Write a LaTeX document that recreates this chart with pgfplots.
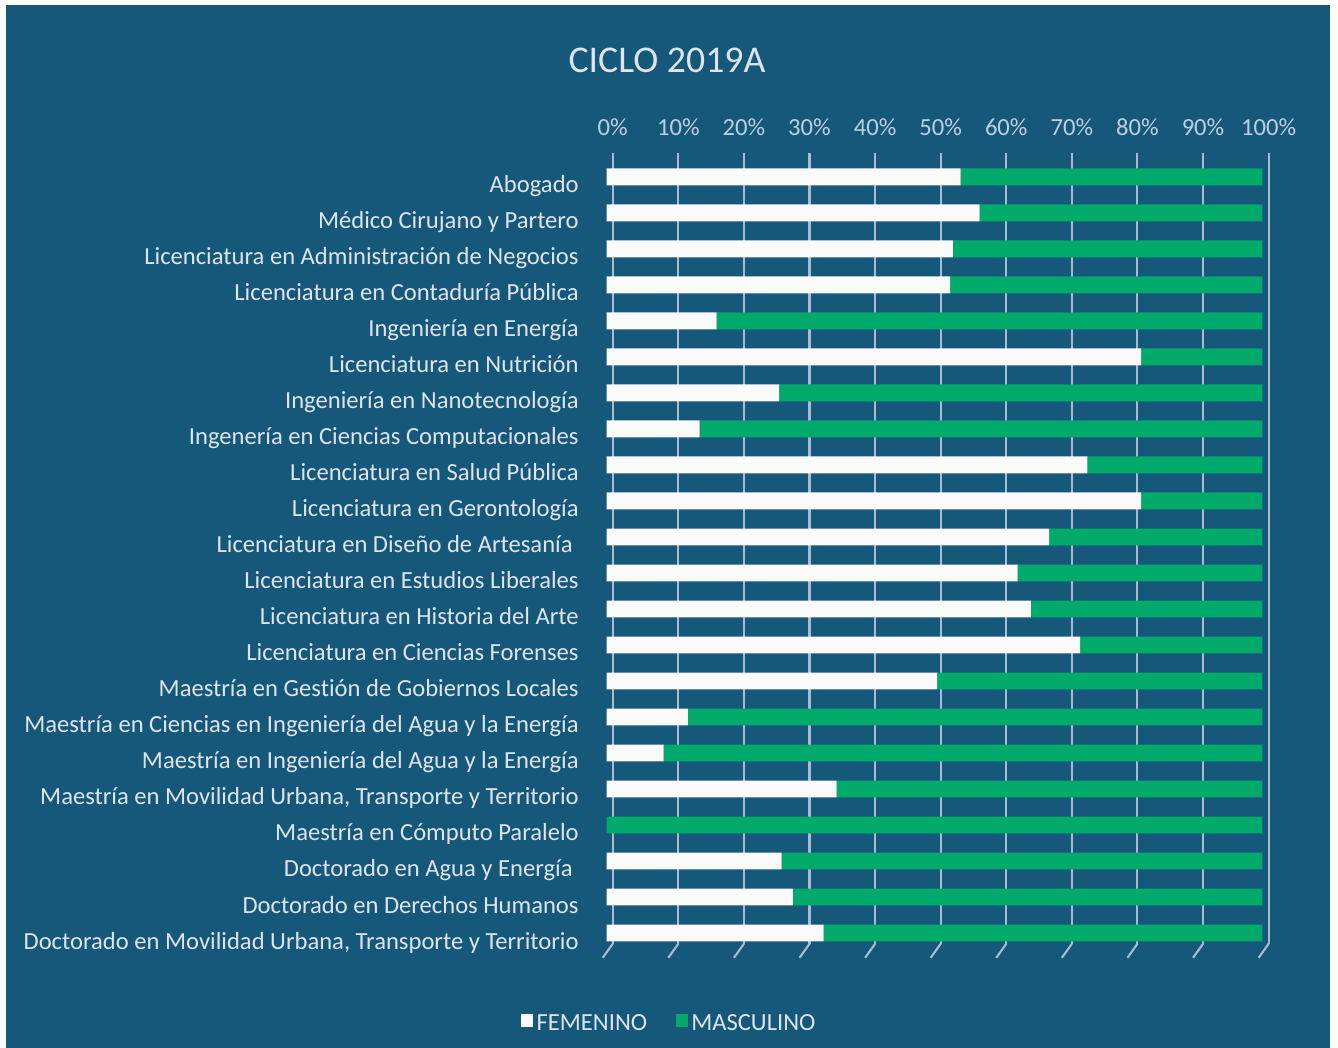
\documentclass[border=0pt]{standalone}
\usepackage{fontspec}
\setmainfont{Carlito}[Ligatures={NoCommon}]
\usepackage{pgfplots}
\pgfplotsset{compat=1.18}

\definecolor{bgblue}{RGB}{22,88,122}
\definecolor{masc}{RGB}{0,170,106}
\definecolor{fem}{RGB}{250,250,250}
\definecolor{labc}{RGB}{222,228,236}
\definecolor{tickc}{RGB}{190,206,228}
\definecolor{gridc}{RGB}{170,186,210}
\newcommand{\fs}{\fontsize{14}{16}\selectfont}

\begin{document}
\begin{tikzpicture}
\useasboundingbox (0,0) rectangle (26.76,20.96);
\fill[white] (0,0) rectangle (26.76,20.96);
\fill[bgblue] (0.12,0) rectangle (26.60,20.86);
\node[text=labc, font=\fontsize{21.5}{24}\selectfont] at (13.34,19.76) {CICLO 2019A};

\begin{axis}[
    at={(12.13cm,2.084cm)}, anchor=south west,
    scale only axis, width=13.38cm, height=15.82cm,
    xbar stacked, bar width=0.47,
    xmin=0, xmax=102, ymin=-0.67, ymax=21.3, y dir=reverse,
    clip=false,
    axis line style={draw=none},
    major tick length=0pt,
    xtick={0.95,10.95,20.95,30.95,40.95,50.95,60.95,70.95,80.95,90.95,100.95},
    xticklabels={0\%,10\%,20\%,30\%,40\%,50\%,60\%,70\%,80\%,90\%,100\%},
    xticklabel pos=upper,
    xticklabel style={font=\fs, text=tickc, anchor=south, inner sep=0pt, yshift=0.34cm},
    ytick={0,...,21},
    yticklabels={
        Abogado,
        Médico Cirujano y Partero,
        Licenciatura en Administración de Negocios,
        Licenciatura en Contaduría Pública,
        Ingeniería en Energía,
        Licenciatura en Nutrición,
        Ingeniería en Nanotecnología,
        Ingenería en Ciencias Computacionales,
        Licenciatura en Salud Pública,
        Licenciatura en Gerontología,
        Licenciatura en Diseño de Artesanía\kern0.12cm,
        Licenciatura en Estudios Liberales,
        Licenciatura en Historia del Arte,
        Licenciatura en Ciencias Forenses,
        Maestría en Gestión de Gobiernos Locales,
        Maestría en Ciencias en Ingeniería del Agua y la Energía,
        Maestría en Ingeniería del Agua y la Energía,
        {Maestría en Movilidad Urbana, Transporte y Territorio},
        Maestría en Cómputo Paralelo,
        Doctorado en Agua y Energía\kern0.12cm,
        Doctorado en Derechos Humanos,
        {Doctorado en Movilidad Urbana, Transporte y Territorio}
    },
    yticklabel style={font=\fs, text=labc, anchor=base east, inner sep=0pt,
        xshift=-0.55cm, yshift=-0.32cm},
    xmajorgrids, ymajorgrids=false,
    grid style={gridc, line width=1.2pt},
    legend columns=2,
    legend cell align=left,
    legend style={at={(0.095,-0.101)}, anchor=center, draw=none, fill=none,
        text=labc, font=\fs,
        /tikz/every even column/.append style={column sep=0.5cm}},
    legend image code/.code={\fill[#1] (-0.05cm,-0.06cm) rectangle (0.19cm,0.19cm);},
]
\addplot[fill=fem, draw=none] coordinates {
    (54.0,0) (56.9,1) (52.8,2) (52.4,3) (16.8,4) (81.5,5) (26.3,6) (14.2,7)
    (73.3,8) (81.5,9) (67.5,10) (62.7,11) (64.7,12) (72.2,13) (50.4,14)
    (12.4,15) (8.7,16) (35.1,17) (0,18) (26.7,19) (28.4,20) (33.1,21)
};
\addplot[fill=masc, draw=none] coordinates {
    (46.0,0) (43.1,1) (47.2,2) (47.6,3) (83.2,4) (18.5,5) (73.7,6) (85.8,7)
    (26.7,8) (18.5,9) (32.5,10) (37.3,11) (35.3,12) (27.8,13) (49.6,14)
    (87.6,15) (91.3,16) (64.9,17) (100,18) (73.3,19) (71.6,20) (66.9,21)
};
\legend{FEMENINO, MASCULINO}
\pgfplotsinvokeforeach{0.95,10.95,20.95,30.95,40.95,50.95,60.95,70.95,80.95,90.95,100.95}{
    \draw[gridc, line width=1.2pt] (axis cs:#1,21.3) -- ++(-0.2cm,-0.28cm);
}
\end{axis}
\end{tikzpicture}
\end{document}
